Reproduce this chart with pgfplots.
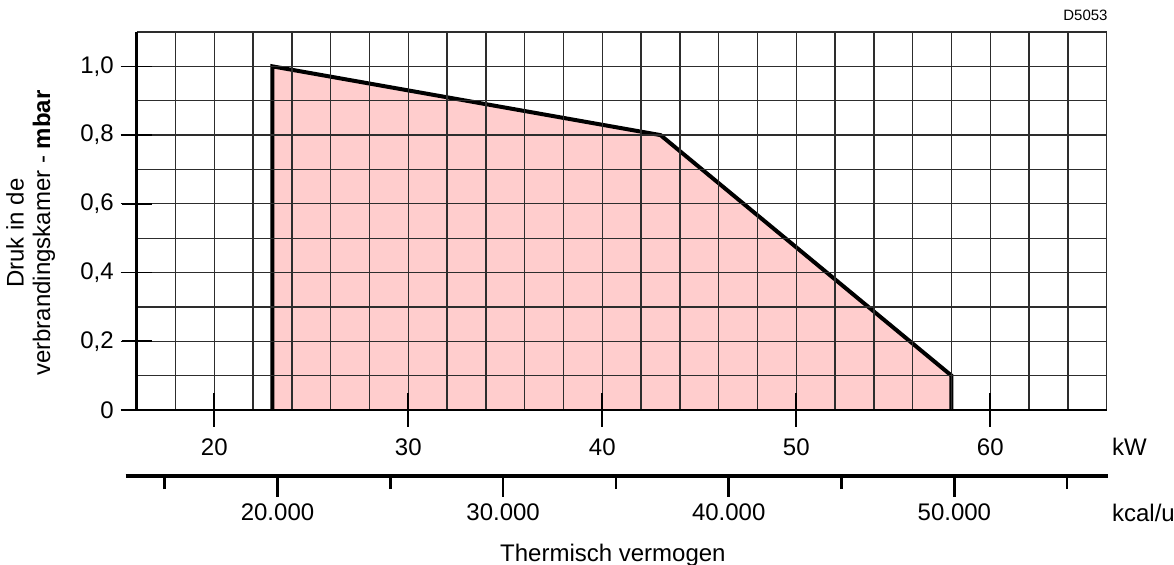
\documentclass[border=0pt]{standalone}
\usepackage{fontspec}
\setmainfont{Liberation Sans}
\usepackage{pgfplots}
\pgfplotsset{compat=1.18}
\definecolor{fillpink}{RGB}{255,205,205}
\definecolor{gridc}{RGB}{45,45,45}
\newcommand{\lbl}{\fontsize{12}{13.25}\selectfont}
\begin{document}
\begin{tikzpicture}
\path[use as bounding box] (0,0) rectangle (587pt,282pt);
\begin{axis}[
  at={(68.35pt,77pt)}, anchor=south west,
  scale only axis, width=485pt, height=189pt,
  xmin=16, xmax=66, ymin=0, ymax=1.1,
  axis lines*=left,
  x axis line style={black, line width=1pt},
  y axis line style={black, line width=1.4pt},
  xtick={20,30,40,50,60},
  ytick={0,0.2,0.4,0.6,0.8,1.0},
  xticklabels={20,30,40,50,60},
  minor xtick={16,18,22,24,26,28,32,34,36,38,42,44,46,48,52,54,56,58,62,64,66},
  yticklabels={0,{0,2},{0,4},{0,6},{0,8},{1,0}},
  minor ytick={0.1,0.3,0.5,0.7,0.9,1.1},
  grid=both,
  major grid style={gridc, line width=0.65pt},
  minor grid style={gridc, line width=0.65pt},
  tick align=outside,
  major tick length=8pt, minor tick length=0pt,
  tick style={black, line width=0.65pt},
  tick label style={font=\lbl},
  xticklabel style={yshift=-3pt},
  xlabel={kW},
  xlabel style={at={(axis description cs:1,0)}, anchor=west, inner sep=0pt, xshift=2.5pt, yshift=-18.35pt, font=\lbl},
  ylabel={Druk in de\\verbrandingskamer - \textbf{mbar}},
  ylabel style={at={(axis description cs:-0.1093,0.468)}, anchor=center, align=center, font=\lbl},
  axis on top, clip=false,
]
\addplot[fill=fillpink, draw=none] coordinates {(23,0) (23,1.0) (43,0.8) (58,0.1) (58,0)} \closedcycle;
\addplot[black, line width=2pt, mark=none] coordinates {(23,0) (23,1.0) (43,0.8) (58,0.1) (58,0)};
\node[anchor=east, inner sep=0pt, font=\fontsize{7.5}{9}\selectfont, xshift=0.65pt, yshift=8.5pt] at (rel axis cs:1,1) {D5053};
\end{axis}
\begin{axis}[
  at={(68.35pt,77pt)}, anchor=south west,
  scale only axis, width=485pt, height=10pt,
  xmin=16, xmax=66, ymin=0, ymax=1,
  axis y line=none, axis x line*=bottom,
  axis line style={black, line width=1pt},
  xtick={20,30,40,50,60}, xticklabels={\strut,\strut,\strut,\strut,\strut},
  tick align=center, major tick length=16.6pt,
  tick style={black, line width=0.8pt},
  clip=false,
]
\addplot[draw=none, mark=none] coordinates {(20,0.5) (60,0.5)};
\end{axis}
\begin{axis}[
  at={(68.35pt,77pt)}, anchor=south west,
  scale only axis, width=10pt, height=189pt,
  xmin=0, xmax=1, ymin=0, ymax=1.1,
  axis x line=none, axis y line*=left,
  axis line style={black, line width=1.4pt},
  ytick={0,0.2,0.4,0.6,0.8,1.0}, yticklabels={\strut,\strut,\strut,\strut,\strut,\strut},
  tick align=center, major tick length=15pt,
  tick style={black, line width=0.8pt},
  clip=false,
]
\addplot[draw=none, mark=none] coordinates {(0.5,0.2) (0.5,0.8)};
\end{axis}
\begin{axis}[
  at={(62.85pt,43.85pt)}, anchor=south west,
  scale only axis, width=491.15pt, height=10pt,
  xmin=13272, xmax=56810, ymin=0, ymax=1,
  axis y line=none, axis x line*=bottom,
  axis line style={black, line width=2pt},
  xtick={20000,30000,40000,50000}, xticklabels={20.000,30.000,40.000,50.000},
  minor xtick={15000,25000,35000,45000,55000},
  scaled x ticks=false,
  tick align=outside, major tick length=10.3pt, minor tick length=6.4pt,
  tick style={black, line width=1.3pt},
  tick label style={font=\lbl},
  xlabel={Thermisch vermogen},
  xlabel style={at={(axis description cs:0.496,0)}, anchor=center, yshift=-39.3pt, font=\lbl},
  clip=false,
]
\addplot[draw=none, mark=none] coordinates {(20000,0) (50000,0)};
\node[anchor=west, inner sep=0pt, font=\lbl, xshift=1.85pt, yshift=-18.35pt] at (rel axis cs:1,0) {kcal/u};
\end{axis}
\end{tikzpicture}
\end{document}
